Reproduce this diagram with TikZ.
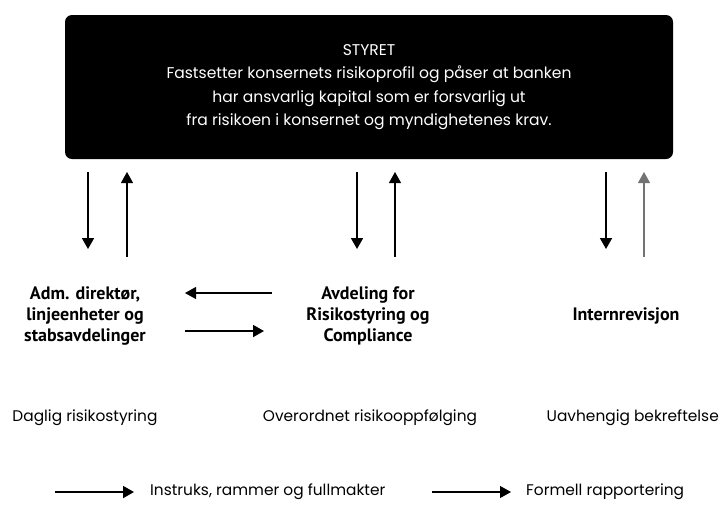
\documentclass[tikz,border=0pt]{standalone}
\usepackage{fontspec}
\setmainfont{Poppins}
\newfontfamily\lblfont{PT Sans}
\usetikzlibrary{arrows.meta}
\newlength\fitw
\begin{document}
\settowidth\fitw{\fontsize{10}{12}\selectfont Fastsetter konsernets risikoprofil og påser at banken}%
\pgfmathsetmacro\boxfs{10*405/\fitw}%
\settowidth\fitw{\lblfont\bfseries\fontsize{10}{12}\selectfont Internrevisjon}%
\pgfmathsetmacro\lblfs{10*107/\fitw}%
\settowidth\fitw{\fontsize{10}{12}\selectfont Daglig risikostyring}%
\pgfmathsetmacro\plfs{10*145/\fitw}%
\begin{tikzpicture}[x=1pt,y=-1pt,
  instr/.style={line width=1.8pt,-{Triangle[length=11pt,width=12pt]}},
  rapp/.style={line width=1.1pt,-{Triangle[length=11pt,width=12pt]}},
  lbl/.style={font=\lblfont\bfseries\fontsize{\lblfs}{21}\selectfont,align=center,inner sep=0pt},
  plain/.style={font=\fontsize{\plfs}{20}\selectfont,inner sep=0pt}]
\useasboundingbox (0,0) rectangle (720,512);
\node[fill=black,rounded corners=7pt,minimum width=608pt,minimum height=144pt,
      text=white,align=center,font=\fontsize{\boxfs}{23.3}\selectfont] (styret) at (369,87)
  {STYRET\\Fastsetter konsernets risikoprofil og påser at banken\\har ansvarlig kapital som er forsvarlig ut\\fra risikoen i konsernet og myndighetenes krav.};
% vertical arrow coordinates
\coordinate (d1a) at (88,172); \coordinate (d1b) at (88,249);
\coordinate (u1a) at (127,257); \coordinate (u1b) at (127,172);
\coordinate (d2a) at (357,172); \coordinate (d2b) at (357,249);
\coordinate (u2a) at (395,257); \coordinate (u2b) at (395,172);
\coordinate (d3a) at (606,172); \coordinate (d3b) at (606,249);
\coordinate (u3a) at (644,257); \coordinate (u3b) at (644,172);
\draw[instr] (d1a) -- (d1b);
\draw[rapp] (u1a) -- (u1b);
\draw[instr] (d2a) -- (d2b);
\draw[rapp] (u2a) -- (u2b);
\draw[instr] (d3a) -- (d3b);
\draw[rapp,draw=black!55] (u3a) -- (u3b);
% unit labels
\node[lbl] (adm) at (85,316) {Adm. direktør,\\linjeenheter og\\stabsavdelinger};
\node[lbl] (risk) at (368,316) {Avdeling for\\Risikostyring og\\Compliance};
\node[lbl] (ir) at (626,316) {Internrevisjon};
\coordinate (la) at (272,293); \coordinate (lb) at (185,293);
\coordinate (ra) at (185,331); \coordinate (rb) at (264,331);
\draw[rapp] (la) -- (lb);
\draw[instr] (ra) -- (rb);
% roles
\node[plain] (r1) at (85,418) {Daglig risikostyring};
\node[plain] (r2) at (370,418) {Overordnet risikooppfølging};
\node[plain,anchor=east] (r3) at (719,418) {Uavhengig bekreftelse};
% legend
\coordinate (l1a) at (55,492); \coordinate (l1b) at (134,492);
\coordinate (l2a) at (432,492); \coordinate (l2b) at (511,492);
\draw[instr] (l1a) -- (l1b);
\draw[rapp] (l2a) -- (l2b);
\node[plain,anchor=west] (t1) at (150,492) {Instruks, rammer og fullmakter};
\node[plain,anchor=west] (t2) at (526,492) {Formell rapportering};
\end{tikzpicture}
\end{document}
